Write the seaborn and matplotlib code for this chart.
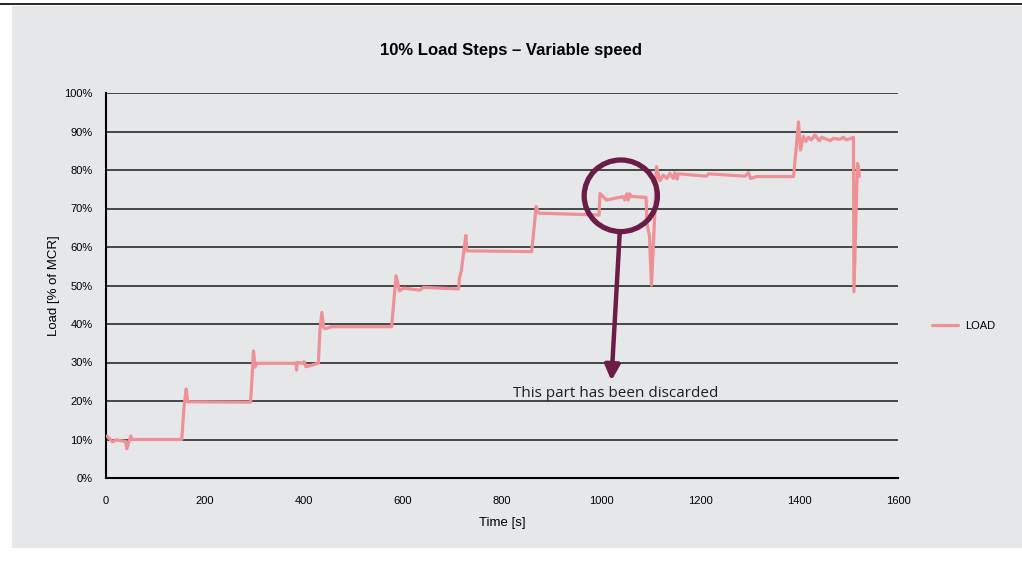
import numpy as np
import pandas as pd
import matplotlib
matplotlib.use("Agg")
import matplotlib.pyplot as plt
from matplotlib.patches import Ellipse, Rectangle
from matplotlib.lines import Line2D
import seaborn as sns

# load trace
time_s = [2, 13, 20, 40, 42, 50, 53, 153, 158, 162, 165, 292, 294, 298, 301, 304,
          384, 385, 386, 398, 400, 404, 429, 432, 436, 440, 445, 455, 577, 586, 593,
          601, 634, 641, 712, 714, 718, 727, 729, 860, 869, 874, 996, 998, 1011, 1045,
          1048, 1052, 1055, 1058, 1062, 1091, 1093, 1098, 1102, 1109, 1112, 1119, 1126,
          1133, 1139, 1146, 1149, 1154, 1156, 1213, 1217, 1291, 1298, 1302, 1314, 1389,
          1399, 1403, 1409, 1414, 1419, 1425, 1432, 1441, 1446, 1463, 1469, 1483, 1490,
          1496, 1510, 1511, 1518, 1520, 1522]
load_pct = [10.9, 9.4, 9.9, 9.5, 7.6, 10.9, 10.0, 10.0, 19.0, 23.1, 19.8, 19.7, 23.7, 33.0, 28.8, 29.8,
            29.8, 28.0, 30.0, 29.8, 30.2, 28.9, 29.8, 38.0, 43.0, 39.0, 38.8, 39.3, 39.3, 52.5, 48.6,
            49.3, 48.8, 49.5, 49.1, 51.9, 54.0, 63.0, 59.0, 58.8, 70.5, 68.8, 68.3, 73.9, 72.2, 73.1,
            72.2, 73.8, 72.2, 73.8, 73.1, 72.9, 66.1, 62.7, 50.1, 69.6, 80.9, 77.2, 78.7,
            77.8, 79.1, 77.8, 79.3, 77.6, 79.0, 78.4, 79.0, 78.4, 79.3, 77.8, 78.3, 78.3,
            92.5, 85.2, 88.7, 87.4, 88.5, 87.8, 89.1, 87.6, 88.5, 87.6, 88.2, 88.0, 88.5,
            87.8, 88.5, 48.4, 81.7, 80.9, 78.3]

x_ticks = [0, 200, 400, 600, 800, 1000, 1200, 1400, 1600]
y_ticks = [0, 10, 20, 30, 40, 50, 60, 70, 80, 90, 100]

bg = "#e6e7e9"
line_col = "#ef9096"
mark_col = "#6b1c47"

sns.set_style("white")
plt.rcParams['font.family'] = ['Liberation Sans', 'DejaVu Sans']
plt.rcParams.update({"text.color": "black", "axes.labelcolor": "black",
                     "xtick.color": "black", "ytick.color": "black"})

df = pd.DataFrame({"time": time_s, "load": load_pct})

fig = plt.figure(figsize=(10.22, 5.64), dpi=100)
fig.patch.set_facecolor("white")
# grey panel + top rule
fig.patches.append(Rectangle((12 / 1022, 16 / 564), 1 - 12 / 1022, 1 - 16 / 564 - 6 / 564,
                             transform=fig.transFigure, facecolor=bg, edgecolor="none", zorder=-10))
fig.lines.append(Line2D([0, 1], [1 - 4 / 564, 1 - 4 / 564], transform=fig.transFigure,
                        color="black", lw=1.2))

ax = fig.add_axes([106 / 1022, 1 - 478 / 564, 792 / 1022, 385 / 564])
ax.set_zorder(2)
ax.set_facecolor(bg)

sns.lineplot(data=df, x="time", y="load", ax=ax, color=line_col, lw=2.3,
             sort=False, estimator=None, label="LOAD", zorder=3)

ax.set_xlim(0, 1600)
ax.set_ylim(0, 100)
ax.set_xticks(x_ticks)
ax.set_yticks(y_ticks)
ax.set_yticklabels([f"{v}%" for v in y_ticks])
for v in y_ticks[1:]:
    ax.axhline(v, color="#2b2b2b", lw=1.2, zorder=1)

for s in ["top", "right"]:
    ax.spines[s].set_visible(False)
for s in ["left", "bottom"]:
    ax.spines[s].set_color("black")
    ax.spines[s].set_linewidth(1.5)
ax.tick_params(axis="y", direction="inout", length=7, width=1, labelsize=8, pad=6)
ax.tick_params(axis="x", direction="out", length=4, width=1, labelsize=8, pad=9)

ax.set_xlabel("Time [s]", fontsize=9.5, labelpad=8)
ax.set_ylabel("Load [% of MCR]", fontsize=9.5, labelpad=3)

fig.text(0.5, 1 - 50 / 564, "10% Load Steps \u2013 Variable speed", ha="center", va="center",
         fontsize=12, fontweight="bold")

# circle + arrow marking the discarded part
ax.add_patch(Ellipse((1040, 73.3), 148, 18.6, fill=False, edgecolor=mark_col, lw=3.8, zorder=5))
ax.annotate("", xy=(1021, 25.3), xytext=(1038, 64.0),
            arrowprops=dict(arrowstyle="-|>,head_length=0.9,head_width=0.45",
                            color=mark_col, lw=3.2, shrinkA=0, shrinkB=0), zorder=5)
ax.text(1029, 22.0, "This part has been discarded", ha="center", va="center",
        fontsize=11, color="#1e1e1e", family=["Open Sans", "DejaVu Sans"], zorder=6)

ax.legend(loc="center left", bbox_to_anchor=(1.03, 0.395), frameon=False, fontsize=8,
          handlelength=2.4, handletextpad=0.6)

fig.savefig("out.png", dpi=100)
